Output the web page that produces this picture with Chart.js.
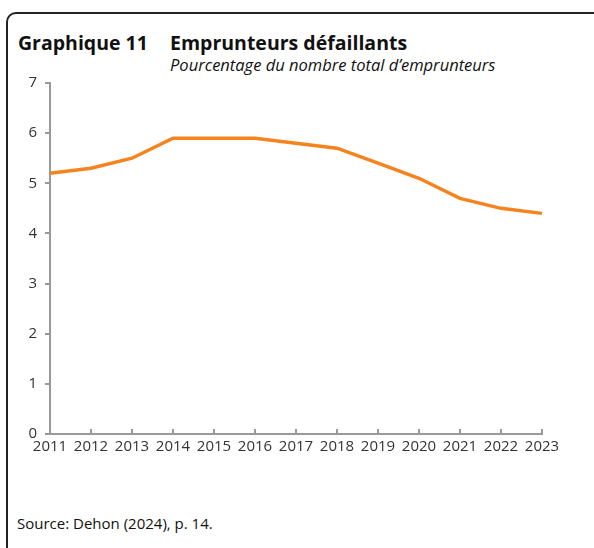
<!DOCTYPE html>
<html>
<head>
<meta charset="utf-8">
<script src="https://cdn.jsdelivr.net/npm/chart.js@4"></script>
<style>
  body { margin: 0; background: #fff; font-family: "Open Sans", sans-serif; }
  #frame {
    position: absolute; left: 6px; top: 12px; width: 620px; height: 600px;
    border: 2px solid #222; border-radius: 10px 0 0 0;
  }
  #title { position: absolute; left: 18px; top: 30px; font-size: 19.5px; line-height: 26px; font-weight: bold; color: #111; white-space: nowrap; }
  #title span { position: absolute; left: 152px; }
  #subtitle { position: absolute; left: 170px; top: 55px; font-size: 16.5px; line-height: 20px; font-style: italic; color: #111; white-space: nowrap; }
  #source { position: absolute; left: 17px; top: 513px; font-size: 15px; line-height: 20px; color: #111; }
  #wrap { position: absolute; left: 0; top: 66px; width: 594px; height: 404px; }
</style>
</head>
<body>
<div id="frame"></div>
<div id="title">Graphique 11<span>Emprunteurs défaillants</span></div>
<div id="subtitle">Pourcentage du nombre total d’emprunteurs</div>
<div id="wrap"><canvas id="chart"></canvas></div>
<div id="source">Source: Dehon (2024), p. 14.</div>
<script>
// années
const years = ['2011', '2012', '2013', '2014', '2015', '2016', '2017', '2018', '2019', '2020', '2021', '2022', '2023'];
// % des emprunteurs
const defaultRate = [5.2, 5.3, 5.5, 5.9, 5.9, 5.9, 5.8, 5.7, 5.4, 5.1, 4.7, 4.5, 4.4];
const yTicks = [0, 1, 2, 3, 4, 5, 6, 7];

const axisGrey = '#999999';

// petits traits vers le haut sur l'axe x
const upTicks = {
    id: 'upTicks',
    afterDraw(chart) {
        const ctx = chart.ctx;
        const x = chart.scales.x;
        const bottom = chart.chartArea.bottom;
        ctx.save();
        ctx.strokeStyle = axisGrey;
        ctx.lineWidth = 2;
        years.forEach((y, i) => {
            const px = x.getPixelForValue(i);
            ctx.beginPath();
            ctx.moveTo(px, bottom);
            ctx.lineTo(px, bottom - 5);
            ctx.stroke();
        });
        ctx.restore();
    }
};

new Chart(document.getElementById('chart'), {
    type: 'line',
    data: {
        labels: years,
        datasets: [{
            data: defaultRate,
            borderColor: '#F5841F',
            borderWidth: 3.5,
            pointRadius: 0,
            tension: 0,
            fill: false
        }]
    },
    options: {
        responsive: true,
        maintainAspectRatio: false,
        animation: false,
        layout: { padding: { left: 0, right: 52, top: 0, bottom: 0 } },
        plugins: { legend: { display: false }, tooltip: { enabled: false } },
        scales: {
            x: {
                offset: false,
                grid: { display: false, drawTicks: false },
                border: { display: true, color: axisGrey, width: 2 },
                ticks: { color: '#333', font: { family: 'Open Sans', size: 15 }, padding: 4, maxRotation: 0, autoSkip: false },
                afterFit(scale) { scale.height = 36; }
            },
            y: {
                min: yTicks[0],
                max: yTicks[yTicks.length - 1],
                afterBuildTicks(scale) { scale.ticks = yTicks.map(v => ({ value: v })); },
                grid: { drawOnChartArea: false, drawTicks: true, tickLength: 5, color: axisGrey, lineWidth: 2 },
                border: { display: true, color: axisGrey, width: 2 },
                ticks: { color: '#333', font: { family: 'Open Sans', size: 15 }, padding: 8 },
                afterFit(scale) { scale.width = 50; }
            }
        }
    },
    plugins: [upTicks]
});
</script>
</body>
</html>
